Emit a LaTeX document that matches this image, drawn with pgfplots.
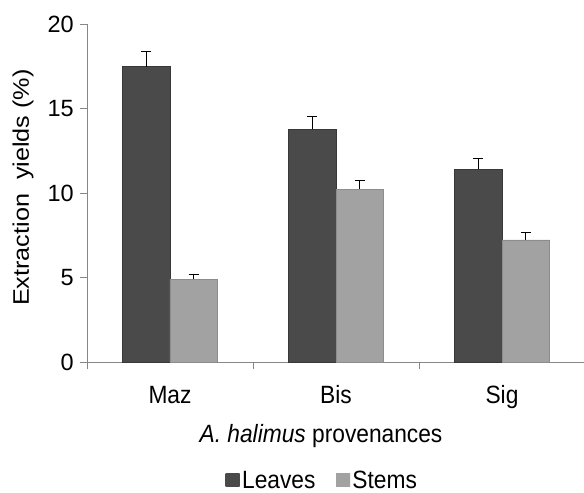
\documentclass[border=0pt]{standalone}
\usepackage{pgfplots}
\pgfplotsset{compat=1.18}
\usepackage{fontspec}
\setmainfont{Liberation Sans}
\newfontfamily\hfont{Liberation Sans}[FakeStretch=0.91]
\newfontfamily\vfont{Liberation Sans}[FakeStretch=1.12]
\definecolor{axgray}{HTML}{878787}
\definecolor{lvA}{HTML}{4A4A4A}
\definecolor{lvB}{HTML}{5A5A5A}
\definecolor{stA}{HTML}{A2A2A2}
\definecolor{stB}{HTML}{B4B4B4}
\begin{document}
\begin{tikzpicture}
\begin{axis}[
  name=ax,
  scale only axis,
  width=498bp, height=338bp,
  xmin=-0.5, xmax=2.5,
  ymin=0, ymax=20,
  ybar=0pt, bar width=47.5bp,
  axis x line*=bottom, axis y line*=left,
  axis line style={draw=axgray, line width=0.8bp},
  tick style={draw=axgray, line width=0.8bp},
  tick align=outside,
  major tick length=7bp,
  xtick={-0.5,0.5,1.5,2.5}, xticklabels={},
  extra x ticks={0,1,2},
  extra x tick labels={Maz,Bis,Sig},
  extra x tick style={major tick length=0pt},
  xticklabel style={font=\hfont\fontsize{25bp}{30bp}\selectfont, anchor=base, inner sep=0pt, yshift=-41bp},
  ytick={0,5,10,15,20},
  yticklabels={0,5,10,15,20},
  /pgf/number format/assume math mode=true,
  yticklabel style={font=\fontsize{23.5bp}{28bp}\selectfont, anchor=east, inner sep=0pt, xshift=-6bp},
  every axis y label/.style={at={(rel axis cs:0,0.516)}, xshift=-58bp, rotate=90, anchor=base, inner sep=0pt, font=\vfont\fontsize{22.5bp}{27bp}\selectfont},
  ylabel={Extraction\ \ yields (\%)},
  every axis x label/.style={at={(rel axis cs:0,0)}, anchor=base, xshift=234bp, yshift=-80bp, inner sep=0pt, font=\hfont\fontsize{25bp}{30bp}\selectfont},
  xlabel={\textit{A. halimus} provenances},
  legend columns=2,
  legend style={draw=none, fill=none, at={(rel axis cs:0.473,-0.350)}, anchor=center, inner sep=0pt,
    font=\hfont\fontsize{25bp}{30bp}\selectfont,
    nodes={inner xsep=2.5bp, inner ysep=0pt},
    /tikz/every even column/.append style={column sep=18bp}},
  legend image code/.code={\path[#1, draw=none] (0bp,-6.5bp) rectangle (14bp,6.5bp);},
  error bars/y dir=plus,
  error bars/y explicit,
  error bars/error bar style={black, line width=0.8bp},
  error bars/error mark options={rotate=90, mark size=5bp, black, line width=0.8bp},
]
\addplot[draw=black!78, line width=0.6bp, left color=lvA, middle color=lvB, right color=lvA]
  coordinates {(0,17.47) +- (0,0.89) (1,13.77) +- (0,0.79) (2,11.42) +- (0,0.63)};
\addplot[draw=black!45, line width=0.6bp, left color=stA, middle color=stB, right color=stA]
  coordinates {(0,4.91) +- (0,0.26) (1,10.22) +- (0,0.55) (2,7.22) +- (0,0.43)};
\legend{Leaves,Stems}
\end{axis}
\pgfresetboundingbox
\path[use as bounding box] ([xshift=-87bp,yshift=-131bp]ax.south west) rectangle ([xshift=-1bp,yshift=24bp]ax.north east);
\end{tikzpicture}
\end{document}
